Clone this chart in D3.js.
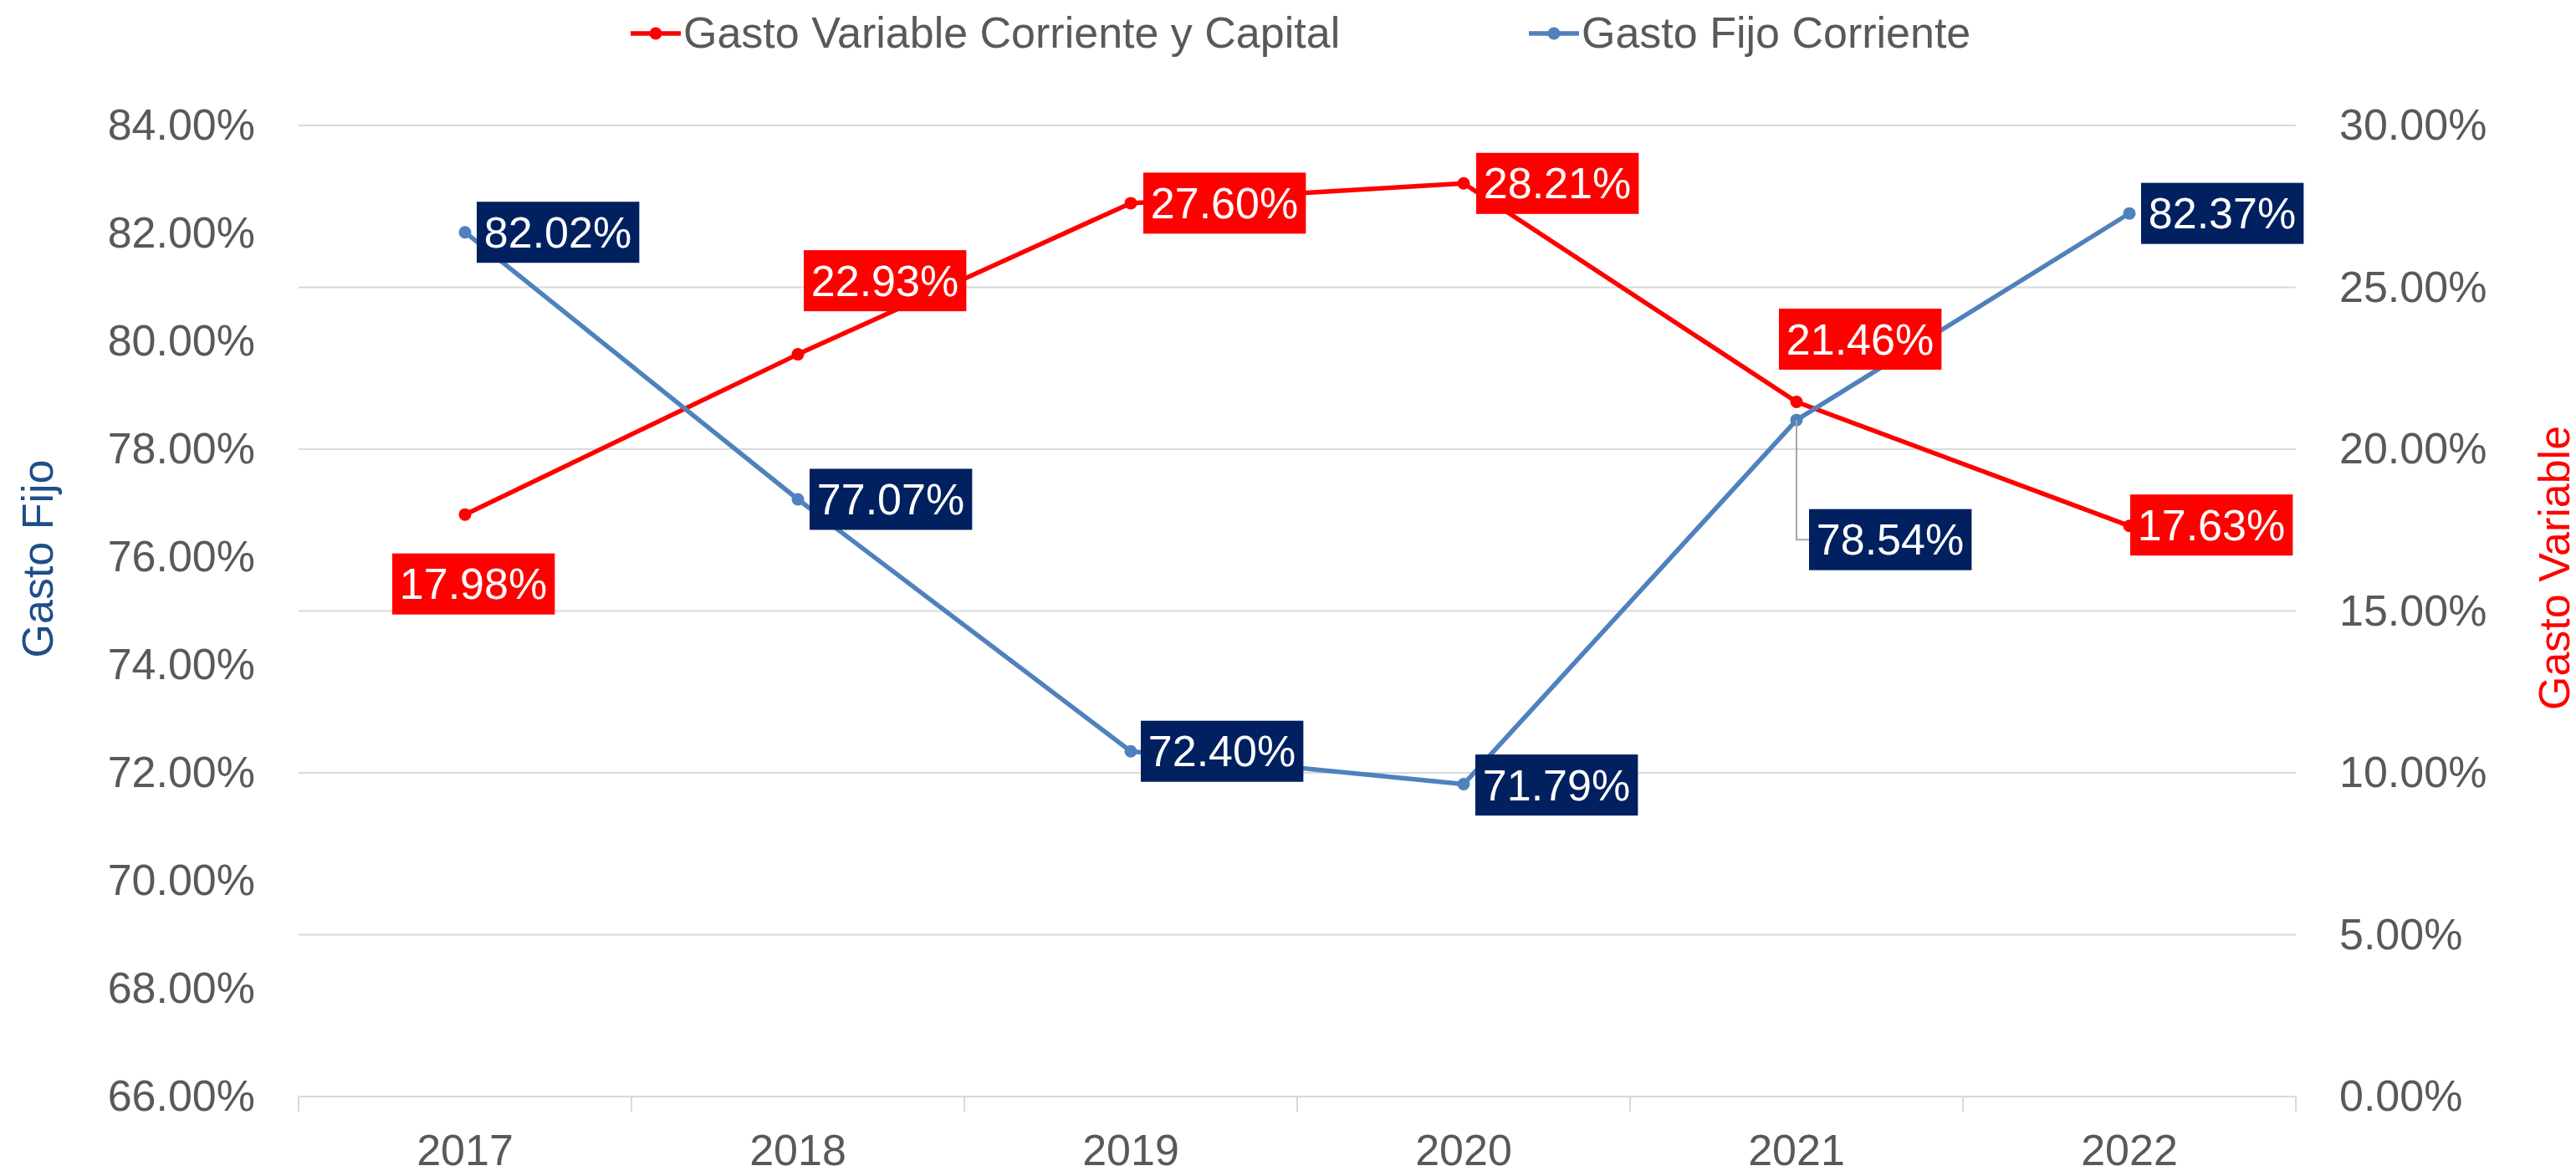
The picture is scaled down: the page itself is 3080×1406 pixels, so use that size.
<!DOCTYPE html>
<html lang="es">
  <head>
    <meta charset="utf-8">
    <title>Gasto Fijo vs Gasto Variable</title>
    <script src="https://d3js.org/d3.v7.min.js"></script>
    <style>
      body {
        margin: 0;
        background: white;
      }
      * {
        font-family: "Liberation Sans", Arial, sans-serif;
      }
      text {
        font-size: 52px;
      }
    </style>
  </head>
  <body>
    <script type="text/javascript">

      // data
      var years = ["2017", "2018", "2019", "2020", "2021", "2022"];
      var gastoVariable = [17.98, 22.93, 27.60, 28.21, 21.46, 17.63];
      var gastoFijo = [82.02, 77.07, 72.40, 71.79, 78.54, 82.37];
      var leftTicks = [66, 68, 70, 72, 74, 76, 78, 80, 82, 84];
      var rightTicks = [0, 5, 10, 15, 20, 25, 30];

      // where each data label box sits, relative to its point (box centre)
      var variableLabelOffset = [[10, 83], [104, -88], [112, 0], [112, 0], [76, -75], [98, -1]];
      var fijoLabelOffset = [[111, 0], [111, 0], [109, 0], [111, 1], [112, 143], [111, 0]];

      var w = 3080;
      var h = 1406;
      var margin = {top: 150, right: 335, bottom: 95, left: 357};
      var innerWidth = w - margin.left - margin.right;
      var innerHeight = h - margin.top - margin.bottom;

      var red = "#ff0000";
      var blue = "#4f81bd";
      var navy = "#002060";
      var grey = "#595959";

      var svg = d3.select("body")
        .append("svg")
          .attr("width", w)
          .attr("height", h);

      svg.append("rect")
        .attr("width", w)
        .attr("height", h)
        .attr("fill", "white");

      // scales
      var xScale = d3.scaleBand()
        .domain(years)
        .range([0, innerWidth]);

      var yLeft = d3.scaleLinear()
        .domain([66, 84])
        .range([innerHeight, 0]);

      var yRight = d3.scaleLinear()
        .domain([0, 30])
        .range([innerHeight, 0]);

      var cx = d => xScale(d) + xScale.bandwidth() / 2;

      var chart = svg.append("g")
        .attr("transform", `translate(${margin.left}, ${margin.top})`);

      // grid lines (from the right axis)
      chart.selectAll(".grid")
        .data(rightTicks).enter().append("line")
          .attr("class", "grid")
          .attr("x1", 0)
          .attr("x2", innerWidth)
          .attr("y1", d => yRight(d))
          .attr("y2", d => yRight(d))
          .attr("stroke", "#d9d9d9")
          .attr("stroke-width", 2);

      // x axis tick marks at category boundaries
      var bounds = years.map(d => xScale(d)).concat([innerWidth]);
      chart.selectAll(".xtick")
        .data(bounds).enter().append("line")
          .attr("class", "xtick")
          .attr("x1", d => d)
          .attr("x2", d => d)
          .attr("y1", innerHeight)
          .attr("y2", innerHeight + 18)
          .attr("stroke", "#d9d9d9")
          .attr("stroke-width", 2);

      // x axis labels
      var xAxis = d3.axisBottom(xScale).tickSize(0).tickPadding(45);
      chart.append("g")
        .attr("transform", `translate(0, ${innerHeight})`)
        .call(xAxis)
        .call(g => g.select(".domain").remove())
        .selectAll("text")
          .attr("fill", grey)
          .style("font-size", "52px");

      // left axis
      var yAxisLeft = d3.axisLeft(yLeft)
        .tickValues(leftTicks)
        .tickFormat(d => d.toFixed(2) + "%")
        .tickSize(0)
        .tickPadding(52);
      chart.append("g")
        .call(yAxisLeft)
        .call(g => g.select(".domain").remove())
        .selectAll("text")
          .attr("fill", grey)
          .style("font-size", "52px");

      // right axis
      var yAxisRight = d3.axisRight(yRight)
        .tickValues(rightTicks)
        .tickFormat(d => d.toFixed(2) + "%")
        .tickSize(0)
        .tickPadding(52);
      chart.append("g")
        .attr("transform", `translate(${innerWidth}, 0)`)
        .call(yAxisRight)
        .call(g => g.select(".domain").remove())
        .selectAll("text")
          .attr("fill", grey)
          .style("font-size", "52px");

      // axis titles
      svg.append("text")
        .attr("transform", "translate(63, 668) rotate(-90)")
        .attr("text-anchor", "middle")
        .attr("fill", "#1f4e89")
        .text("Gasto Fijo");

      svg.append("text")
        .attr("transform", "translate(3072, 679) rotate(-90)")
        .attr("text-anchor", "middle")
        .attr("fill", red)
        .text("Gasto Variable");

      // series
      var series = [
        {name: "Gasto Variable Corriente y Capital", values: gastoVariable, y: yRight, color: red,
         box: red, offsets: variableLabelOffset},
        {name: "Gasto Fijo Corriente", values: gastoFijo, y: yLeft, color: blue,
         box: navy, offsets: fijoLabelOffset}
      ];

      series.forEach(function(s) {
        var pts = years.map((yr, i) => [cx(yr), s.y(s.values[i])]);
        chart.append("path")
          .datum(pts)
          .attr("d", d3.line())
          .attr("fill", "none")
          .attr("stroke", s.color)
          .attr("stroke-width", 5.5)
          .attr("stroke-linejoin", "round");
        chart.selectAll(null)
          .data(pts).enter().append("circle")
            .attr("cx", d => d[0])
            .attr("cy", d => d[1])
            .attr("r", 7.5)
            .attr("fill", s.color);
      });

      // leader line for 2021 fijo label
      var lx = cx("2021");
      var ly = yLeft(gastoFijo[4]);
      var lo = fijoLabelOffset[4];
      chart.append("path")
        .attr("d", `M${lx},${ly} V${ly + lo[1]} H${lx + lo[0] - 97}`)
        .attr("fill", "none")
        .attr("stroke", "#a6a6a6")
        .attr("stroke-width", 2);

      // data labels
      series.forEach(function(s) {
        years.forEach(function(yr, i) {
          var px = cx(yr) + s.offsets[i][0];
          var py = s.y(s.values[i]) + s.offsets[i][1];
          var g = chart.append("g");
          var rect = g.append("rect").attr("fill", s.box);
          var t = g.append("text")
            .attr("x", px)
            .attr("y", py)
            .attr("dy", "0.35em")
            .attr("text-anchor", "middle")
            .attr("fill", "white")
            .text(s.values[i].toFixed(2) + "%");
          var bb = t.node().getBBox();
          rect.attr("x", px - 97)
            .attr("y", py - 36.5)
            .attr("width", Math.max(194, bb.width + 18))
            .attr("height", 73);
        });
      });

      // legend
      var legendX = [754, 1828];
      var legend = svg.selectAll(".legend")
        .data(series).enter().append("g")
          .attr("class", "legend")
          .attr("transform", (d, i) => `translate(${legendX[i]}, 40)`);
      legend.append("line")
        .attr("x1", 0)
        .attr("x2", 60)
        .attr("stroke", d => d.color)
        .attr("stroke-width", 5.5);
      legend.append("circle")
        .attr("cx", 30)
        .attr("r", 7.5)
        .attr("fill", d => d.color);
      legend.append("text")
        .attr("x", 63)
        .attr("y", 17)
        .attr("fill", grey)
        .text(d => d.name);

    </script>
  </body>
</html>
